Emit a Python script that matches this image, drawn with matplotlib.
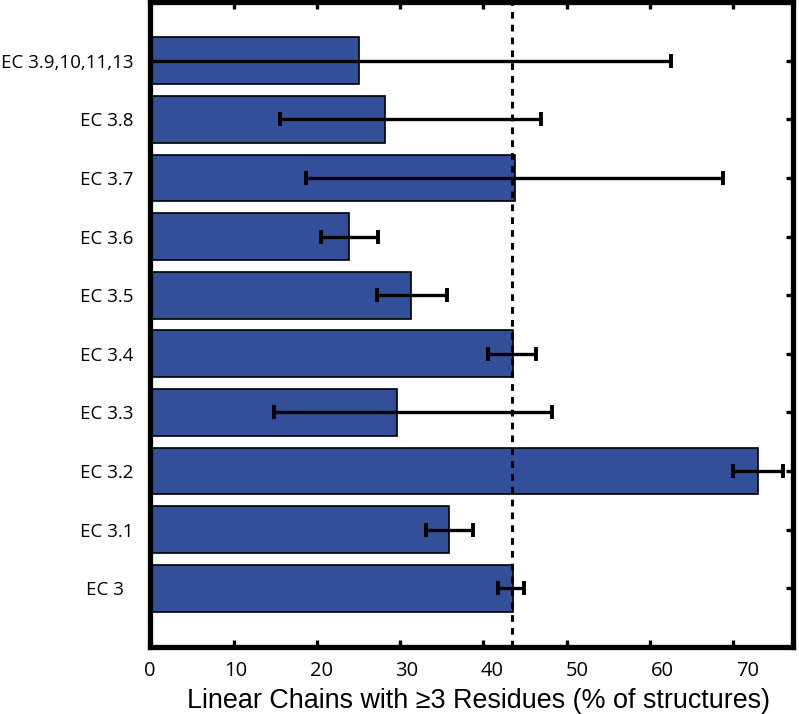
import numpy as np
import matplotlib.pyplot as plt
from matplotlib.transforms import ScaledTranslation

# categories from bottom to top
labels = ['EC 3  ', 'EC 3.1', 'EC 3.2', 'EC 3.3', 'EC 3.4',
          'EC 3.5', 'EC 3.6', 'EC 3.7', 'EC 3.8', 'EC 3.9,10,11,13']
values = [43.5, 35.9, 72.9, 29.6, 43.5, 31.3, 23.9, 43.8, 28.2, 25.0]
err_low = [41.8, 33.1, 69.9, 14.8, 40.6, 27.2, 20.5, 18.7, 15.6, -12.5]
err_high = [44.9, 38.7, 75.9, 48.2, 46.3, 35.6, 27.4, 68.7, 46.9, 62.5]
mean_line = 43.4
xticks = [0, 10, 20, 30, 40, 50, 60, 70]

values = np.array(values)
xerr = [values - np.array(err_low), np.array(err_high) - values]
y = np.arange(1, len(labels) + 1)

fig = plt.figure(figsize=(7.99, 7.14), dpi=100)
ax = fig.add_axes([0.188, 0.094, 0.805, 0.903])

ax.barh(y, values, height=0.8, color='#344f9a', edgecolor='black',
        linewidth=1.2, zorder=2)
ax.errorbar(values, y, xerr=xerr, fmt='none', ecolor='black',
            elinewidth=2.4, capsize=5, capthick=2.8, zorder=3)
ax.axvline(mean_line, color='black', linestyle=(0, (2.2, 2.0)),
           linewidth=2.2, zorder=4)

ax.set_xlim(0, 77.2)
ax.set_ylim(0, 11)
ax.set_xticks(xticks)
ax.set_yticks(y)
ax.set_yticklabels(labels)

ax.tick_params(direction='in', length=5, width=2.4, top=True, right=True,
               left=False)
ax.tick_params(axis='x', pad=10, labelsize=14.5, labelfontfamily='Open Sans')
ax.tick_params(axis='y', pad=12, labelsize=13.5, labelfontfamily='Open Sans')
for s in ax.spines.values():
    s.set_linewidth(3.8)

# the original's tick labels drift slightly right of their ticks
for tick, v in zip(ax.xaxis.get_major_ticks(), xticks):
    lab = tick.label1
    lab.set_transform(lab.get_transform() +
                      ScaledTranslation(v * 0.0021, 0, fig.dpi_scale_trans))

ax.set_xlabel('Linear Chains with \u22653 Residues (% of structures)',
              fontsize=19.4, family=['Liberation Sans', 'DejaVu Sans'])
ax.xaxis.set_label_coords(0.511, -0.063)

plt.savefig('out.png', dpi=100)
